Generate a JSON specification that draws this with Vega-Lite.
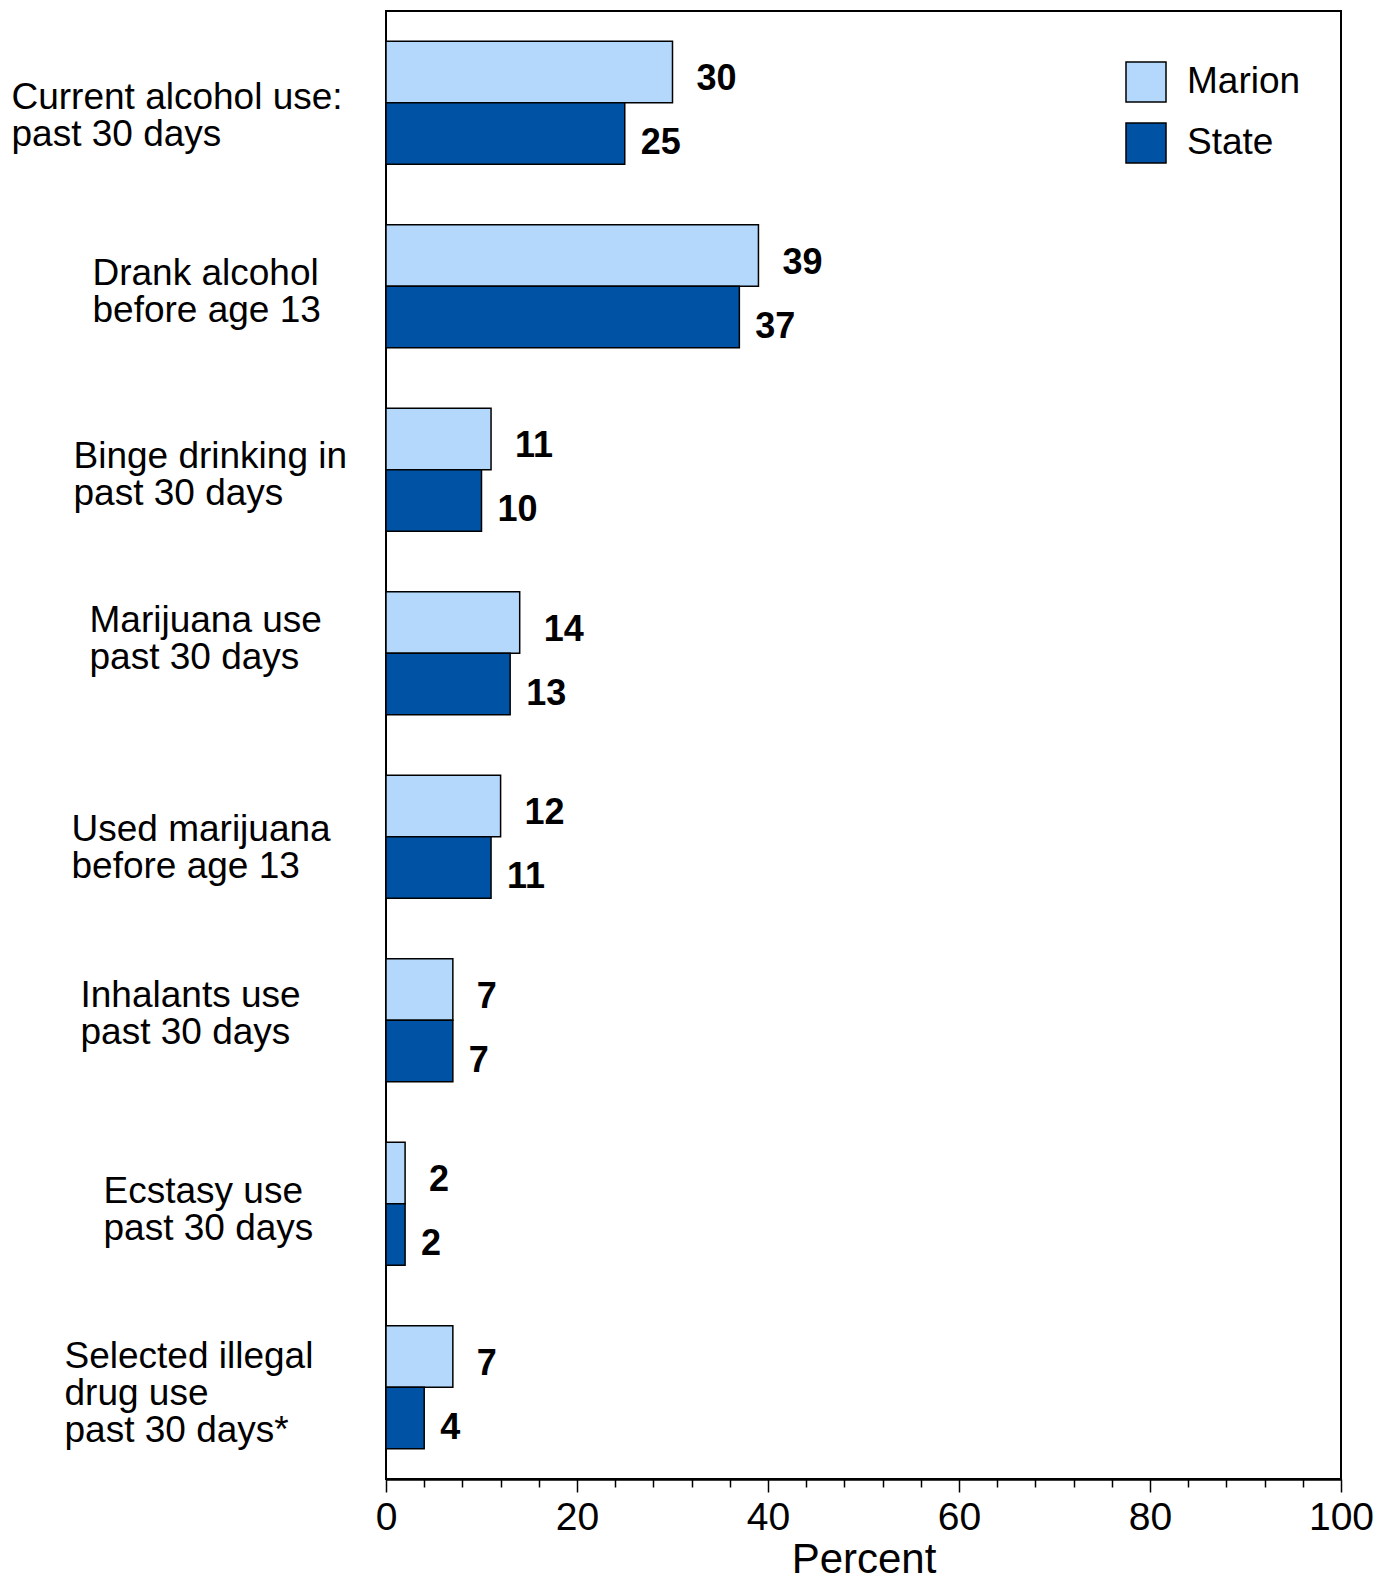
{
  "$schema": "https://vega.github.io/schema/vega-lite/v6.json",
  "width": 955,
  "height": 1468,
  "padding": {"left": 11, "top": 11, "right": 5, "bottom": 0},
  "background": "white",
  "config": {"font": "Liberation Sans", "view": {"stroke": "black", "strokeWidth": 2}},
  "data": {
    "values": [
      {"measure": "Current alcohol use:|past 30 days", "group": "Marion", "value": 30},
      {"measure": "Current alcohol use:|past 30 days", "group": "State", "value": 25},
      {"measure": "Drank alcohol|before age 13", "group": "Marion", "value": 39},
      {"measure": "Drank alcohol|before age 13", "group": "State", "value": 37},
      {"measure": "Binge drinking in|past 30 days", "group": "Marion", "value": 11},
      {"measure": "Binge drinking in|past 30 days", "group": "State", "value": 10},
      {"measure": "Marijuana use|past 30 days", "group": "Marion", "value": 14},
      {"measure": "Marijuana use|past 30 days", "group": "State", "value": 13},
      {"measure": "Used marijuana|before age 13", "group": "Marion", "value": 12},
      {"measure": "Used marijuana|before age 13", "group": "State", "value": 11},
      {"measure": "Inhalants use|past 30 days", "group": "Marion", "value": 7},
      {"measure": "Inhalants use|past 30 days", "group": "State", "value": 7},
      {"measure": "Ecstasy use|past 30 days", "group": "Marion", "value": 2},
      {"measure": "Ecstasy use|past 30 days", "group": "State", "value": 2},
      {"measure": "Selected illegal|drug use|past 30 days*", "group": "Marion", "value": 7},
      {"measure": "Selected illegal|drug use|past 30 days*", "group": "State", "value": 4}
    ]
  },
  "encoding": {
    "y": {
      "field": "measure", "type": "nominal", "sort": null,
      "scale": {"paddingInner": 0.33, "paddingOuter": 0.165},
      "axis": {
        "title": null, "domain": false, "ticks": false,
        "labelAlign": "left", "labelBaseline": "middle",
        "labelPadding": {"condition": [
          {"test": "indexof(datum.value, 'Current') == 0", "value": 375},
          {"test": "indexof(datum.value, 'Drank') == 0", "value": 294},
          {"test": "indexof(datum.value, 'Binge') == 0", "value": 313},
          {"test": "indexof(datum.value, 'Marijuana') == 0", "value": 297},
          {"test": "indexof(datum.value, 'Used') == 0", "value": 315},
          {"test": "indexof(datum.value, 'Inhalants') == 0", "value": 306},
          {"test": "indexof(datum.value, 'Ecstasy') == 0", "value": 283}
        ], "value": 322},
        "labelOffset": {"condition": [
          {"test": "indexof(datum.value, 'Current') == 0", "value": -5},
          {"test": "indexof(datum.value, 'Drank') == 0", "value": -12},
          {"test": "indexof(datum.value, 'Binge') == 0", "value": -13},
          {"test": "indexof(datum.value, 'Marijuana') == 0", "value": -32},
          {"test": "indexof(datum.value, 'Used') == 0", "value": -7},
          {"test": "indexof(datum.value, 'Inhalants') == 0", "value": -24},
          {"test": "indexof(datum.value, 'Ecstasy') == 0", "value": -12}
        ], "value": -30},
        "labelFontSize": 37, "labelLineHeight": 37,
        "labelExpr": "split(datum.label, '|')", "labelColor": "black", "labelLimit": 500
      }
    },
    "yOffset": {"field": "group", "type": "nominal", "sort": ["Marion", "State"], "scale": {"paddingInner": 0, "paddingOuter": 0}},
    "x": {
      "field": "value", "type": "quantitative",
      "scale": {"domain": [0, 100], "nice": false},
      "axis": {
        "values": [0, 4, 8, 12, 16, 20, 24, 28, 32, 36, 40, 44, 48, 52, 56, 60, 64, 68, 72, 76, 80, 84, 88, 92, 96, 100],
        "labelExpr": "datum.value % 20 == 0 ? datum.label : ''",
        "tickSize": {"condition": {"test": "datum.value % 20 == 0", "value": 13}, "value": 8},
        "tickColor": "black", "tickWidth": 1.5,
        "domainColor": "black", "domainWidth": 2.5,
        "labelFontSize": 39, "labelColor": "black", "labelPadding": 6,
        "labelOverlap": false, "labelFlush": false,
        "grid": false,
        "title": "Percent", "titleFontSize": 42, "titleFontWeight": "normal", "titleColor": "black", "titlePadding": 2
      }
    }
  },
  "layer": [
    {
      "mark": {"type": "bar", "stroke": "black", "strokeWidth": 1.5},
      "encoding": {
        "color": {
          "field": "group", "type": "nominal",
          "scale": {"domain": ["Marion", "State"], "range": ["#B3D8FB", "#0052A5"]},
          "legend": {
            "title": null, "orient": "none", "legendX": 739, "legendY": 50,
            "symbolType": "square", "symbolSize": 1600,
            "symbolStrokeColor": "black", "symbolStrokeWidth": 1.5, "symbolOpacity": 1,
            "labelFontSize": 37, "labelOffset": 20, "rowPadding": 15, "labelColor": "black"
          }
        }
      }
    },
    {
      "transform": [{"filter": "datum.group == 'Marion'"}],
      "mark": {"type": "text", "align": "left", "baseline": "middle", "dx": 24, "dy": 7, "fontWeight": "bold", "fontSize": 36, "color": "black"},
      "encoding": {"text": {"field": "value", "type": "quantitative"}}
    },
    {
      "transform": [{"filter": "datum.group == 'State'"}],
      "mark": {"type": "text", "align": "left", "baseline": "middle", "dx": 16, "dy": 10, "fontWeight": "bold", "fontSize": 36, "color": "black"},
      "encoding": {"text": {"field": "value", "type": "quantitative"}}
    }
  ]
}
